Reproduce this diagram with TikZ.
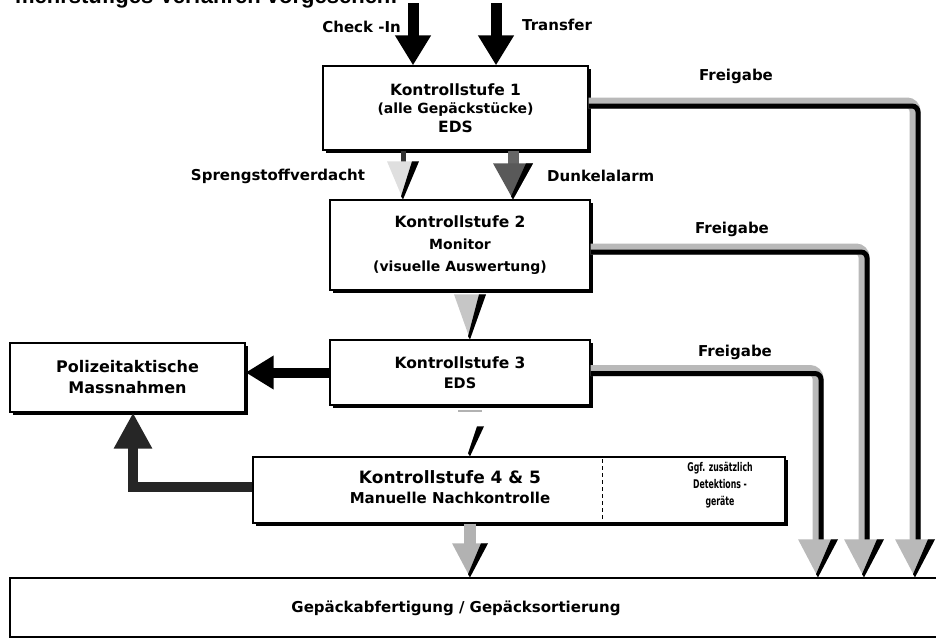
\documentclass[tikz,border=0pt]{standalone}
\usepackage{fontspec}
\setmainfont{DejaVu Sans}
\newfontfamily\condfont[FakeStretch=0.65]{DejaVu Sans}
\newfontfamily\headfont{Liberation Sans}
\usetikzlibrary{arrows.meta,shadows,calc}
\tikzset{
  box/.style={draw=black, line width=1.3pt, fill=white, inner sep=0pt, align=center,
    drop shadow={shadow xshift=2.5pt, shadow yshift=-2.5pt, fill=black, opacity=1}},
  lbl/.style={font=\bfseries\fontsize{15}{18}\selectfont, inner sep=0pt},
  gshaft/.style={draw=gray!55, line width=11pt, rounded corners=8pt},
  bshaft/.style={draw=black, line width=5pt, rounded corners=6pt},
  pics/sltip/.style n args={3}{code={
    \fill[#1] (-#2,-#3) -- (#2,-#3) -- (0,0) -- cycle;
    \fill[black] (#2,-#3) -- (#2-7,-#3) -- (-2,-3) -- (0,0) -- cycle;
  }},
}
\begin{document}
\begin{tikzpicture}[x=1pt,y=-1pt]
\useasboundingbox (0,0) rectangle (936,641);
\clip (0,0) rectangle (936,641);

% clipped heading
\node[anchor=base east, inner sep=0pt, font=\headfont\bfseries\fontsize{22}{24}\selectfont] (hd) at (398,3.5) {mehrstufiges Verfahren vorgesehen:};

% boxes
\node[box, minimum width=265pt, minimum height=84pt, font=\bfseries\fontsize{15.5}{18.5}\selectfont] (k1) at (455.5,108)
  {Kontrollstufe 1\\
   \fontsize{14}{18.5}\selectfont (alle Gepäckstücke)\\
   EDS};
\node[box, minimum width=260pt, minimum height=90pt, font=\bfseries\fontsize{15.5}{22}\selectfont] (k2) at (460,245)
  {Kontrollstufe 2\\
   \fontsize{14}{22}\selectfont Monitor\\
   \fontsize{14}{22}\selectfont (visuelle Auswertung)};
\node[box, minimum width=260pt, minimum height=65pt, font=\bfseries\fontsize{15.5}{20}\selectfont] (k3) at (460,372.5)
  {Kontrollstufe 3\\
   \fontsize{14.5}{20}\selectfont EDS};
\node[box, minimum width=235pt, minimum height=69pt, font=\bfseries\fontsize{16}{21}\selectfont] (pol) at (127.5,377.5)
  {Polizeitaktische\\Massnahmen};
\node[box, minimum width=532pt, minimum height=66pt] (k4) at (519,490) {};
\node[align=center, inner sep=0pt, font=\bfseries\fontsize{17}{20}\selectfont] (k4t) at (450,487)
  {Kontrollstufe 4 \& 5\\
   \fontsize{15}{20}\selectfont Manuelle Nachkontrolle};
\node[align=center, inner sep=0pt, font=\condfont\bfseries\fontsize{12}{17}\selectfont] (k4r) at (720,485)
  {Ggf. zusätzlich\\Detektions -\\geräte};
\draw[line width=1pt, dash pattern=on 4pt off 3pt] ($(k4.north west)+(350,3)$) -- ($(k4.south west)+(350,-3)$);
\node[draw=black, line width=1.5pt, minimum width=940pt, minimum height=59pt, inner sep=0pt] (bag) at (480,607.5) {};
\node[inner sep=0pt, font=\bfseries\fontsize{15}{18}\selectfont] (bagt) at (456,608) {Gepäckabfertigung / Gepäcksortierung};

% labels
\node[lbl, anchor=east] (lci) at (401,27) {Check -In};
\node[lbl, anchor=west] (ltr) at (522,25) {Transfer};
\node[lbl] (fg1) at (736,76) {Freigabe};
\node[lbl] (fg2) at (732,229) {Freigabe};
\node[lbl] (fg3) at (735,352) {Freigabe};
\node[lbl] (lsp) at (278,176) {Sprengstoffverdacht};
\node[lbl, anchor=west] (ldu) at (547,176) {Dunkelalarm};

% entry arrows
\coordinate (ci) at (413,3);
\coordinate (tr) at (496,3);
\draw[line width=11pt, -{Triangle[width=34pt,length=30pt]}] (ci) -- (ci |- k1.north);
\draw[line width=11pt, -{Triangle[width=34pt,length=30pt]}] (tr) -- (tr |- k1.north);

% Freigabe arrows
\coordinate (f1) at (915,540);
\coordinate (f2) at (864,540);
\coordinate (f3) at (818,540);
\draw[gshaft] ($(k1.east)+(0,-5)$) -| (f1);
\draw[bshaft] ($(k1.east)+(0,-2)$) -| ($(f1)+(3,0)$);
\pic at (f1 |- bag.north) {sltip={gray!55}{20}{38}};
\draw[gshaft] ($(k2.east)+(0,4)$) -| (f2);
\draw[bshaft] ($(k2.east)+(0,7)$) -| ($(f2)+(3,0)$);
\pic at (f2 |- bag.north) {sltip={gray!55}{20}{38}};
\draw[gshaft] ($(k3.east)+(0,-2)$) -| (f3);
\draw[bshaft] ($(k3.east)+(0,1)$) -| ($(f3)+(3,0)$);
\pic at (f3 |- bag.north) {sltip={gray!55}{20}{38}};

% arrows between stages
\coordinate (s1) at (403,0);
\coordinate (d1) at (513,0);
\coordinate (m1) at (470,0);
\draw[line width=5pt, black!80] (s1 |- k1.south) -- ++(0,12);
\pic at (s1 |- k2.north) {sltip={gray!25}{16}{38}};
\draw[line width=11pt, black!60] (d1 |- k1.south) -- ++(0,15);
\pic at (d1 |- k2.north) {sltip={black!65}{20}{36}};
\pic at (m1 |- k3.north) {sltip={gray!45}{16}{45}};
\draw[gray!60, line width=2pt] ($(m1 |- k3.south)+(-12,5)$) -- ++(24,0);
\pic at (m1 |- k4.north) {sltip={white}{14}{30}};
\draw[line width=12pt, gray!60] (m1 |- k4.south) -- ++(0,22);
\pic at (m1 |- bag.north) {sltip={gray!60}{18}{34}};

% to police
\draw[line width=10pt, -{Triangle[width=32pt,length=28pt]}] (k3.west) -- (k3.west -| pol.east);
\coordinate (pc) at (133,0);
\draw[line width=10pt, black!85, -{Triangle[width=36pt,length=36pt]}] ($(k4.west)+(0,-3)$) -| (pc |- pol.south);
\end{tikzpicture}
\end{document}
